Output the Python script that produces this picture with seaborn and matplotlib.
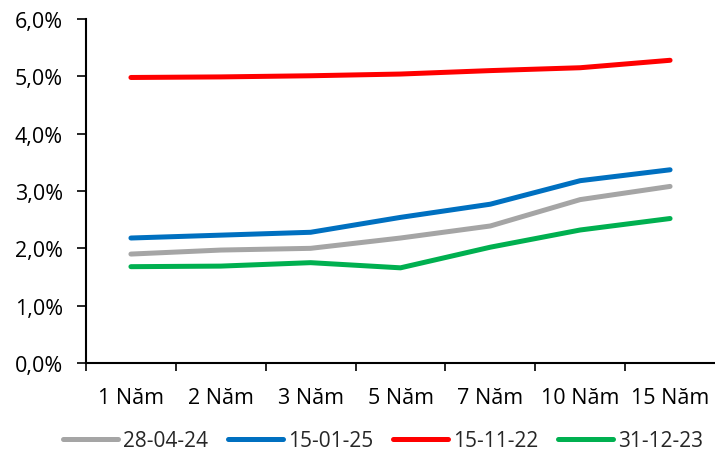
import matplotlib
matplotlib.use("Agg")
import matplotlib.pyplot as plt
import seaborn as sns
import pandas as pd
from matplotlib.ticker import FixedLocator, FuncFormatter

# Kỳ hạn và lợi suất (%) theo từng ngày
tenors = ["1 Năm", "2 Năm", "3 Năm", "5 Năm", "7 Năm", "10 Năm", "15 Năm"]
yield_280424 = [1.90, 1.97, 2.00, 2.18, 2.39, 2.85, 3.08]
yield_150125 = [2.18, 2.23, 2.28, 2.54, 2.77, 3.18, 3.37]
yield_151122 = [4.98, 4.99, 5.01, 5.04, 5.10, 5.15, 5.28]
yield_311223 = [1.68, 1.69, 1.75, 1.66, 2.02, 2.32, 2.52]

series_names = ["28-04-24", "15-01-25", "15-11-22", "31-12-23"]
series_values = [yield_280424, yield_150125, yield_151122, yield_311223]
colors = ["#A5A5A5", "#0070C0", "#FF0000", "#00B050"]

rows = []
for name, vals in zip(series_names, series_values):
    for t, v in zip(tenors, vals):
        rows.append({"Kỳ hạn": t, "Lợi suất": v, "Ngày": name})
df = pd.DataFrame(rows)

sns.set_style("ticks")
plt.rcParams["font.family"] = ["Open Sans", "DejaVu Sans"]
FS = 15.5

fig = plt.figure(figsize=(7.15, 4.52), dpi=100)
ax = fig.add_axes([86 / 715, 88 / 452, 1 - 86 / 715, (364 - 20) / 452])

sns.lineplot(
    data=df, x="Kỳ hạn", y="Lợi suất", hue="Ngày",
    hue_order=series_names, palette=colors, sort=False,
    linewidth=3.6, ax=ax, legend=True,
)
for line in ax.get_lines():
    line.set_solid_capstyle("round")

ax.set_xlim(-0.5, 6.5)
ax.set_ylim(0, 6)
ax.set_xlabel("")
ax.set_ylabel("")

# nhãn kỳ hạn ở giữa, vạch chia ở ranh giới các nhóm
ax.xaxis.set_major_locator(FixedLocator(range(len(tenors))))
ax.set_xticklabels(tenors)
ax.xaxis.set_minor_locator(FixedLocator([i - 0.5 for i in range(len(tenors))]))
ax.tick_params(axis="x", which="major", length=0, pad=17, labelsize=FS, colors="black")
ax.tick_params(axis="x", which="minor", length=6, width=1.2, direction="out", color="black")

ax.yaxis.set_major_locator(FixedLocator([0, 1, 2, 3, 4, 5, 6]))
ax.yaxis.set_major_formatter(FuncFormatter(lambda v, _: f"{v:.1f}%".replace(".", ",")))
ax.tick_params(axis="y", length=6.5, width=1.2, direction="out", pad=10, labelsize=FS, colors="black")

for side in ("top", "right"):
    ax.spines[side].set_visible(False)
for side in ("left", "bottom"):
    ax.spines[side].set_color("black")
    ax.spines[side].set_linewidth(1.5)

handles, labels = ax.get_legend_handles_labels()
ax.get_legend().remove()
for h in handles:
    h.set_linewidth(3.6)
    h.set_solid_capstyle("round")
fig.legend(
    handles, labels, loc="center", bbox_to_anchor=(383 / 715, 1 - 442 / 452),
    ncol=4, frameon=False, fontsize=15, handlelength=2.64,
    handletextpad=0.25, columnspacing=0.95, borderpad=0, borderaxespad=0,
)

fig.savefig("out.png", dpi=100)
